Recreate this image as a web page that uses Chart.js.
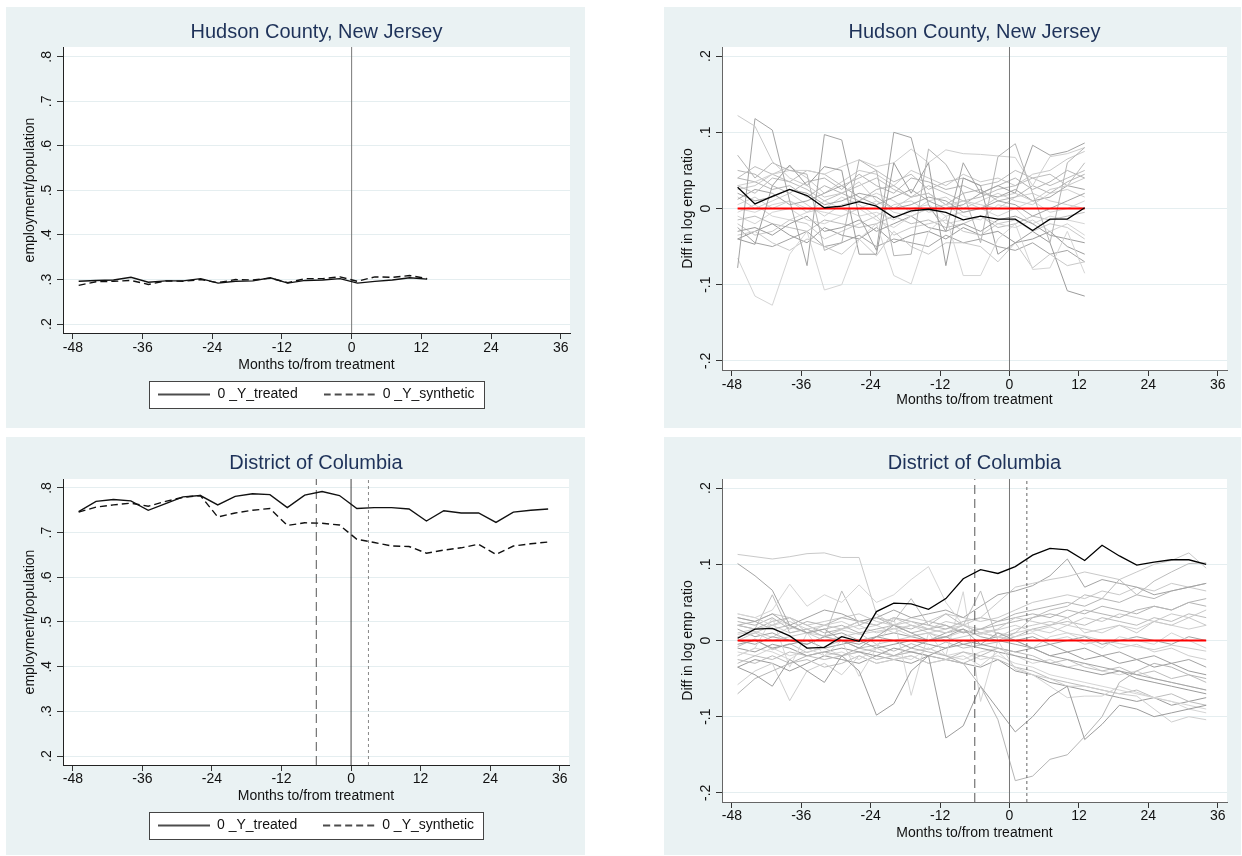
<!DOCTYPE html>
<html>
<head>
<meta charset="utf-8">
<script src="https://cdn.jsdelivr.net/npm/chart.js@4"></script>
<style>
  body { margin: 0; background: #fff; }
  .panel { position: absolute; }
</style>
</head>
<body>
<div class="panel" style="left:6px;top:7px"><canvas id="c1" width="579" height="421"></canvas></div>
<div class="panel" style="left:664px;top:7px"><canvas id="c2" width="577" height="421"></canvas></div>
<div class="panel" style="left:6px;top:437px"><canvas id="c3" width="579" height="418"></canvas></div>
<div class="panel" style="left:664px;top:437px"><canvas id="c4" width="577" height="418"></canvas></div>
<script>
// months relative to treatment (quarterly observations)
const months = [-47, -44, -41, -38, -35, -32, -29, -26, -23, -20, -17, -14, -11, -8, -5, -2, 1, 4, 7, 10, 13, 16, 19, 22, 25, 28, 31, 34];
const xTicks = [-48, -36, -24, -12, 0, 12, 24, 36];
const ratioTicks = [.2, .3, .4, .5, .6, .7, .8];
const ratioLabels = ['.2', '.3', '.4', '.5', '.6', '.7', '.8'];
const diffTicks = [-.2, -.1, 0, .1, .2];
const diffLabels = ['-.2', '-.1', '0', '.1', '.2'];
const dcEventLines = [-6, 0, 3];

// Hudson County, employment/population
const hudsonTreated = [.296, .298, .299, .305, .294, .297, .297, .302, .292, .296, .297, .304, .292, .298, .299, .302, .292, .296, .299, .304, .301];
const hudsonSynthetic = [.287, .295, .296, .298, .289, .297, .296, .300, .293, .300, .299, .303, .293, .302, .302, .306, .296, .306, .305, .309, .302];

// District of Columbia, employment/population
const dcTreated = [.747, .770, .774, .771, .750, .765, .780, .783, .762, .781, .787, .785, .756, .784, .792, .783, .754, .756, .756, .753, .726, .749, .744, .744, .723, .746, .750, .753];
const dcSynthetic = [.746, .757, .762, .766, .759, .770, .779, .783, .735, .744, .750, .754, .716, .722, .721, .717, .685, .678, .670, .669, .654, .661, .666, .674, .651, .670, .675, .679];

// diff in log emp ratio, treated unit
const hudsonGap = [.028, .006, .016, .025, .017, .001, .003, .009, .003, -.012, -.003, -.001, -.005, -.015, -.010, -.014, -.014, -.029, -.014, -.014, .001];
const dcGap = [.003, .015, .016, .006, -.010, -.009, .005, -.001, .038, .049, .048, .041, .055, .081, .093, .088, .097, .112, .121, .119, .105, .125, .111, .099, .103, .106, .106, .100];

// placebo gaps, Hudson donor pool
const hudsonPlacebo = [
  [.122, .108, .062, .04, .03, .015, .02, .035, .01, .0, .015, .02, .005, .01, .0, .015, .02, .01, .025, .03, .04],
  [-.078, .118, .103, .01, -.075, .097, .09, -.01, -.055, .1, .093, .005, -.03, .06, .02, .03, .02, .083, .07, .075, .086],
  [-.065, -.115, -.127, -.06, -.03, -.107, -.1, -.04, -.02, -.088, -.099, -.03, -.01, -.088, -.088, -.04, -.02, -.08, -.078, -.03, -.085],
  [.07, .04, .06, .05, .045, -.055, -.045, .064, .05, -.062, -.06, .078, .058, .02, -.045, .068, .085, .02, -.045, .06, .08],
  [-.04, -.047, .03, .057, .03, .055, .05, -.06, -.06, .06, .02, .06, -.075, .04, .03, -.06, -.045, -.03, -.045, -.108, -.115],
  [.03, .035, .045, .05, .05, .045, .055, .064, .055, .06, .078, .06, .077, .072, .071, .069, .067, .03, .068, .072, .08],
  [.04, .055, .045, .035, .05, .045, .03, .04, .05, .035, .045, .025, .035, .04, .03, .035, .05, .04, .03, .04, .05],
  [-.035, -.03, -.045, -.055, -.04, -.05, -.06, -.04, -.062, -.03, -.05, -.06, -.045, -.045, -.05, -.07, -.045, -.078, -.06, -.075, -.07],
  [.02, .01, .015, .025, .02, .005, .01, .02, .015, .0, .005, .015, .01, -.005, .0, .01, .005, -.01, .0, .01, .02],
  [-.01, -.02, -.005, .0, -.015, -.02, -.01, .0, -.015, -.025, -.01, .0, -.02, -.015, -.01, -.02, -.025, -.015, -.03, -.02, -.035],
  [.04, .035, .025, .03, .015, .03, .02, .01, .025, .03, .015, .02, .005, .02, .025, .01, .015, .03, .02, .035, .045],
  [-.03, -.025, -.035, -.02, -.01, -.03, -.025, -.015, -.03, -.02, -.01, -.025, -.03, -.02, -.03, -.015, -.01, -.02, -.035, -.04, -.045],
  [.005, .015, .0, .01, -.005, .0, .015, .005, -.01, .005, .01, -.005, .0, .01, .005, .0, .015, .02, .01, .005, .0],
  [.03, .02, .04, .035, .025, .01, .02, .03, .04, .025, .015, .03, .02, .01, .015, .025, .03, .04, .045, .03, .06],
  [-.02, -.035, -.03, -.015, -.02, -.04, -.03, -.02, -.01, -.035, -.025, -.02, -.015, -.03, -.035, -.02, -.015, -.03, -.02, -.025, -.04],
  [.012, .025, .02, .005, .01, .02, .03, .015, .005, .015, .025, .01, .0, .005, .02, .015, .025, .01, .015, .03, .025],
  [-.005, .005, -.01, -.015, -.005, .01, .0, -.01, -.005, -.015, .0, .005, -.01, -.005, .0, -.01, .0, -.02, -.01, -.015, -.02],
  [.05, .045, .03, .02, .035, .04, .025, .045, .03, .02, .04, .035, .025, .03, .02, .03, .04, .025, .035, .05, .04],
  [-.04, -.03, -.02, -.035, -.045, -.025, -.035, -.04, -.025, -.045, -.035, -.03, -.04, -.025, -.035, -.03, -.045, -.04, -.03, -.05, -.06],
  [.015, .0, .01, .02, .005, -.01, .005, .01, .02, .01, -.005, .01, .015, .0, .01, .02, .01, .005, .02, .025, .015],
  [-.015, -.01, -.02, -.025, -.03, -.015, -.02, -.025, -.02, -.01, -.02, -.015, -.025, -.02, -.01, -.025, -.02, -.01, -.015, -.01, -.005],
  [.025, .03, .045, .055, .04, .02, .035, .05, .045, .03, .05, .04, .03, .045, .035, .04, .03, .045, .05, .065, .075],
  [-.025, -.045, -.05, -.04, -.03, -.05, -.045, -.035, -.05, -.04, -.045, -.05, -.035, -.045, -.04, -.05, -.055, -.045, -.06, -.055, -.07],
  [.0, -.005, .005, .01, .0, -.005, -.01, .0, .01, -.005, -.01, .0, .005, -.01, -.015, .005, .0, .01, -.005, .0, .01]
];

// placebo gaps, DC donor pool
const dcPlacebo = [
  [.113, .11, .107, .11, .114, .115, .109, .109, .035, .02, .025, .015, .01, .02, .01, .015, .03, .025, .02, .03, .01, .015, .02, .01, .025, .02, .03, .02],
  [.101, .085, .066, .02, .01, .015, .0, -.01, .005, .02, .01, .0, .005, .015, -.005, .01, .0, -.01, -.02, -.025, -.03, -.035, -.04, -.045, -.05, -.055, -.06, -.065],
  [.035, .03, .04, .074, .045, .06, .05, .073, .05, .06, .08, .097, .05, .02, .01, .005, .0, -.01, .005, .01, .0, -.01, .005, .0, -.005, .01, .0, -.01],
  [-.07, -.05, -.04, -.03, -.02, -.015, -.02, -.01, -.015, -.02, -.01, -.015, -.02, -.03, -.06, -.104, -.184, -.178, -.156, -.15, -.126, -.1, -.055, -.04, -.03, -.035, -.045, -.05],
  [-.035, -.045, -.06, -.025, -.04, -.055, -.02, -.04, -.098, -.083, -.04, -.02, -.128, -.112, -.06, -.09, -.12, -.1, -.074, -.06, -.13, -.11, -.085, -.09, -.1, -.095, -.09, -.085],
  [-.058, -.04, -.03, -.079, -.04, -.03, -.045, -.02, -.03, -.025, -.02, -.03, -.025, -.02, -.033, -.015, -.035, -.045, -.05, -.06, -.06, -.065, -.07, -.073, -.09, -.107, -.1, -.104],
  [.02, .015, .06, .01, .015, .005, .065, .02, .03, .025, .055, .02, .035, .02, .065, .0, .01, .03, .04, .045, .06, .055, .08, .06, .078, .09, .101, .102],
  [.0, .01, .02, .03, .01, .02, .015, .025, .02, .03, .02, .015, .025, .02, .03, .05, .07, .075, .08, .084, .09, .085, .08, .09, .1, .105, .115, .095],
  [.03, .025, .035, .02, .03, .04, .035, .025, .03, .04, .03, .035, .04, .03, .045, .06, .065, .072, .085, .107, .07, .08, .075, .07, .06, .065, .07, .075],
  [-.02, -.01, .03, -.035, .01, -.02, .0, -.047, -.01, .03, -.072, .01, -.02, .064, -.08, .0, -.038, -.045, -.06, -.075, -.073, -.073, -.06, -.068, -.075, -.08, -.09, -.095],
  [.02, .025, .015, .02, .01, .015, .02, .01, .015, .02, .01, .015, .02, .01, .015, .02, .025, .03, .035, .03, .04, .035, .03, .04, .045, .04, .05, .055],
  [-.01, -.015, -.005, -.01, -.02, -.015, -.01, -.015, -.02, -.01, -.015, -.02, -.01, -.005, -.01, -.015, -.02, -.025, -.03, -.035, -.04, -.045, -.04, -.05, -.055, -.06, -.065, -.07],
  [.035, .03, .02, .025, .015, .02, .025, .015, .02, .01, .02, .015, .01, .02, .015, .01, .005, .01, .0, .005, -.005, .0, -.01, -.005, -.015, -.01, -.02, -.025],
  [-.03, -.02, -.025, -.015, -.02, -.025, -.02, -.015, -.025, -.02, -.015, -.02, -.025, -.015, -.02, -.01, -.015, -.02, -.03, -.025, -.035, -.04, -.035, -.045, -.04, -.05, -.045, -.055],
  [.005, .01, .0, .005, .01, .0, .005, .01, -.005, .0, .005, .01, .0, .005, .01, .005, .015, .02, .025, .02, .03, .025, .035, .03, .025, .035, .03, .04],
  [.015, .005, .01, .0, -.005, .005, .01, .0, .005, .01, .005, .0, .01, .015, .005, .0, -.005, -.01, -.005, -.015, -.01, -.02, -.015, -.025, -.02, -.03, -.025, -.035],
  [-.02, -.01, -.015, -.025, -.01, -.02, -.015, -.025, -.01, -.02, -.025, -.01, -.02, -.015, -.025, -.02, -.03, -.035, -.045, -.05, -.055, -.06, -.065, -.07, -.075, -.08, -.085, -.09],
  [.025, .02, .03, .015, .025, .02, .03, .025, .02, .03, .025, .02, .015, .025, .03, .025, .035, .04, .045, .05, .045, .055, .05, .06, .055, .065, .07, .075],
  [-.005, .0, -.01, -.005, .0, -.01, -.005, .0, -.01, -.005, .0, -.005, -.01, .0, -.005, -.01, -.015, -.01, -.02, -.015, -.025, -.02, -.03, -.025, -.035, -.03, -.04, -.045],
  [.01, .015, .02, .01, .015, .005, .015, .02, .01, .015, .02, .01, .015, .02, .01, .005, .01, .015, .01, .02, .015, .01, .02, .015, .025, .02, .015, .02],
  [-.025, -.03, -.02, -.03, -.025, -.035, -.03, -.02, -.03, -.025, -.02, -.03, -.025, -.03, -.02, -.025, -.035, -.04, -.05, -.055, -.06, -.065, -.07, -.065, -.075, -.07, -.08, -.085],
  [.03, .025, .035, .03, .02, .025, .03, .035, .025, .02, .03, .025, .035, .03, .025, .03, .04, .05, .055, .06, .055, .065, .06, .07, .065, .075, .07, .065],
  [.0, -.005, .005, .0, -.005, .005, .0, -.005, .005, .0, -.01, .0, .005, -.005, .0, .005, .0, .005, -.005, .0, .005, -.005, .0, .005, .0, -.005, .005, .0],
  [-.015, -.02, -.01, -.02, -.015, -.01, -.02, -.015, -.01, -.02, -.015, -.01, -.02, -.025, -.015, -.01, -.02, -.03, -.025, -.035, -.03, -.04, -.045, -.04, -.05, -.055, -.06, -.065],
  [.02, .015, .025, .03, .02, .01, .015, .025, .03, .02, .015, .025, .02, .01, .015, .025, .03, .035, .03, .04, .035, .045, .04, .035, .045, .04, .05, .045],
  [-.035, -.025, -.03, -.04, -.03, -.02, -.025, -.03, -.02, -.025, -.03, -.02, -.025, -.03, -.035, -.025, -.04, -.045, -.055, -.06, -.065, -.07, -.075, -.08, -.075, -.085, -.08, -.075],
  [.008, .012, .004, .018, .01, .006, .014, .008, .012, .016, .006, .01, .004, .012, .008, .014, .02, .012, .018, .01, .006, .0, -.004, -.008, -.012, -.006, -.01, -.014],
  [-.008, .002, -.012, -.004, -.016, -.008, .0, -.01, -.006, -.014, -.004, -.012, -.002, -.01, -.006, -.002, .005, .015, .02, .025, .02, .03, .025, .02, .03, .025, .035, .03]
];

const grayShades = ['#c9c9c9', '#a4a4a4', '#d5d5d5', '#b5b5b5', '#9c9c9c', '#cfcfcf', '#bdbdbd'];
const FONT = "'Liberation Sans', Arial, sans-serif";
Chart.defaults.font.family = FONT;
Chart.defaults.color = '#111';

function pts(vals) {
  return vals.map((v, i) => ({x: months[i], y: v}));
}

// small line image used as the legend key (keeps the dash pattern)
function legendKey(dash) {
  const c = document.createElement('canvas');
  c.width = 52; c.height = 4;
  const g = c.getContext('2d');
  g.strokeStyle = '#111';
  g.lineWidth = 1.4;
  g.setLineDash(dash);
  g.beginPath();
  g.moveTo(0, 2); g.lineTo(52, 2);
  g.stroke();
  return c;
}

function vline(x, yMin, yMax, color, dash) {
  return {
    data: [{x: x, y: yMin}, {x: x, y: yMax}],
    borderColor: color, borderWidth: 1, borderDash: dash,
    pointRadius: 0, order: 2
  };
}

const panelBg = {
  id: 'panelBg',
  beforeDraw(chart) {
    const {ctx, chartArea: a} = chart;
    ctx.save();
    ctx.fillStyle = '#eaf2f3';
    ctx.fillRect(0, 0, chart.width, chart.height);
    ctx.fillStyle = '#ffffff';
    ctx.fillRect(a.left, a.top, a.right - a.left, a.bottom - a.top);
    const lg = chart.legend;
    if (lg && lg.options.display && lg.legendHitBoxes.length) {
      const hb = lg.legendHitBoxes;
      const l = Math.round(Math.min(...hb.map(h => h.left)) - 9) + 0.5;
      const r = Math.round(Math.max(...hb.map(h => h.left + h.width)) + 9) + 0.5;
      const cy = lg.top + lg.options.labels.padding + 7;
      const t = Math.round(cy - 13.5) + 0.5;
      ctx.fillRect(l, t, r - l, 27);
      ctx.strokeStyle = '#444';
      ctx.lineWidth = 1;
      ctx.strokeRect(l, t, r - l, 27);
    }
    ctx.restore();
  }
};

function makePanel(id, p) {
  new Chart(document.getElementById(id), {
    type: 'line',
    data: {datasets: p.datasets},
    plugins: [panelBg],
    options: {
      responsive: false,
      devicePixelRatio: 1,
      animation: false,
      events: [],
      layout: {padding: {left: 0, top: 0, right: p.padRight, bottom: p.padBottom}},
      elements: {line: {tension: 0}, point: {radius: 0}},
      plugins: {
        tooltip: {enabled: false},
        title: {
          display: true, text: p.title, fullSize: false,
          color: '#1e3259', font: {size: 20, weight: 'normal'},
          padding: {top: p.titleTop, bottom: p.titleBottom}
        },
        legend: p.legend ? {
          display: true, position: 'bottom', fullSize: false,
          labels: {
            usePointStyle: true, pointStyleWidth: 52,
            padding: 26, color: '#111', font: {size: 14},
            filter: item => item.datasetIndex < 2
          }
        } : {display: false}
      },
      scales: {
        x: {
          type: 'linear', min: -49.7, max: 37.6,
          afterBuildTicks: s => { s.ticks = xTicks.map(v => ({value: v})); },
          afterFit: s => { s.height = p.xHeight; },
          ticks: {autoSkip: false, padding: p.xTickPad, color: '#111', font: {size: 14}, maxRotation: 0},
          grid: {drawOnChartArea: false, tickLength: 6, tickColor: '#333'},
          border: {color: p.axisColor, width: 1},
          title: {display: true, text: 'Months to/from treatment', color: '#111', font: {size: 14},
                  padding: {top: 0, bottom: p.xTitlePad}}
        },
        y: {
          min: p.yMin, max: p.yMax,
          afterBuildTicks: s => { s.ticks = p.yTicks.map(v => ({value: v})); },
          afterFit: s => { s.width = p.yWidth; },
          ticks: {autoSkip: false, minRotation: 90, maxRotation: 90, crossAlign: 'center',
                  padding: p.yTickPad, color: '#111', font: {size: 14},
                  callback: (v, i) => p.yLabels[i]},
          grid: {color: '#e5eef0', lineWidth: 1, tickLength: 6, tickColor: '#333'},
          border: {color: p.axisColor, width: 1},
          title: {display: true, text: p.yTitle, color: '#111', font: {size: 14},
                  padding: {top: 16, bottom: 0}}
        }
      }
    }
  });
}

function placeboSets(list) {
  return list.map((vals, i) => ({
    data: pts(vals), borderColor: grayShades[i % grayShades.length],
    borderWidth: 1, pointRadius: 0, order: 10
  }));
}

const solidKey = legendKey([]);
const dashKey = legendKey([7, 4]);

// top left: Hudson levels
makePanel('c1', {
  title: 'Hudson County, New Jersey', titleTop: 13, titleBottom: 3,
  padRight: 15, padBottom: 16.5, xHeight: 28.5, xTickPad: 1, xTitlePad: -12,
  yWidth: 57, yTickPad: 4, yMin: .18, yMax: .822, yTicks: ratioTicks, yLabels: ratioLabels,
  yTitle: 'employment/population', axisColor: '#222', legend: true,
  datasets: [
    {label: '0 _Y_treated', data: pts(hudsonTreated), borderColor: '#111', borderWidth: 1.4, pointRadius: 0, pointStyle: solidKey, order: 0},
    {label: '0 _Y_synthetic', data: pts(hudsonSynthetic), borderColor: '#111', borderWidth: 1.4, borderDash: [7, 4], pointRadius: 0, pointStyle: dashKey, order: 1},
    vline(0, .18, .822, '#777', [])
  ]
});

// top right: Hudson placebo gaps
makePanel('c2', {
  title: 'Hudson County, New Jersey', titleTop: 13, titleBottom: 3,
  padRight: 14, padBottom: 15.6, xHeight: 42.4, xTickPad: 1, xTitlePad: 4,
  yWidth: 58, yTickPad: 2, yMin: -.212, yMax: .212, yTicks: diffTicks, yLabels: diffLabels,
  yTitle: 'Diff in log emp ratio', axisColor: '#666', legend: false,
  datasets: [
    {data: pts(hudsonGap), borderColor: '#000', borderWidth: 1.3, pointRadius: 0, order: 0},
    {data: pts(hudsonGap.map(() => 0)), borderColor: '#ff0000', borderWidth: 2, pointRadius: 0, order: 1},
    vline(0, -.212, .212, '#777', []),
    ...placeboSets(hudsonPlacebo)
  ]
});

// bottom left: DC levels
makePanel('c3', {
  title: 'District of Columbia', titleTop: 14, titleBottom: 4,
  padRight: 16, padBottom: 12.5, xHeight: 27.5, xTickPad: 0, xTitlePad: -12,
  yWidth: 57, yTickPad: 4, yMin: .18, yMax: .82, yTicks: ratioTicks, yLabels: ratioLabels,
  yTitle: 'employment/population', axisColor: '#222', legend: true,
  datasets: [
    {label: '0 _Y_treated', data: pts(dcTreated), borderColor: '#111', borderWidth: 1.4, pointRadius: 0, pointStyle: solidKey, order: 0},
    {label: '0 _Y_synthetic', data: pts(dcSynthetic), borderColor: '#111', borderWidth: 1.4, borderDash: [7, 4], pointRadius: 0, pointStyle: dashKey, order: 1},
    vline(dcEventLines[0], .18, .82, '#555', [9, 5]),
    vline(dcEventLines[1], .18, .82, '#444', []),
    vline(dcEventLines[2], .18, .82, '#888', [3, 3])
  ]
});

// bottom right: DC placebo gaps
makePanel('c4', {
  title: 'District of Columbia', titleTop: 14, titleBottom: 4,
  padRight: 14, padBottom: 9.6, xHeight: 43.4, xTickPad: 0, xTitlePad: 4,
  yWidth: 58, yTickPad: 2, yMin: -.212, yMax: .212, yTicks: diffTicks, yLabels: diffLabels,
  yTitle: 'Diff in log emp ratio', axisColor: '#666', legend: false,
  datasets: [
    {data: pts(dcGap), borderColor: '#000', borderWidth: 1.3, pointRadius: 0, order: 0},
    {data: pts(dcGap.map(() => 0)), borderColor: '#ff0000', borderWidth: 2, pointRadius: 0, order: 1},
    vline(dcEventLines[0], -.212, .212, '#555', [9, 5]),
    vline(dcEventLines[1], -.212, .212, '#777', []),
    vline(dcEventLines[2], -.212, .212, '#666', [3, 3]),
    ...placeboSets(dcPlacebo)
  ]
});
</script>
</body>
</html>
